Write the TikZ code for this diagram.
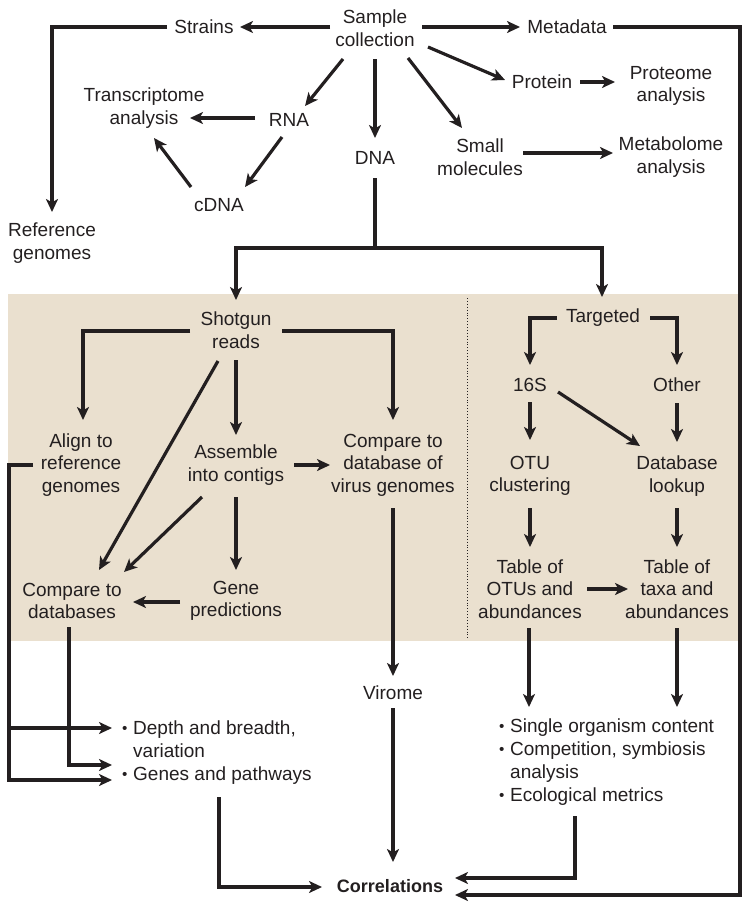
\documentclass[tikz,border=0pt]{standalone}
\usepackage{fontspec}
\setmainfont{Liberation Sans}
\usetikzlibrary{arrows.meta,calc}
\definecolor{txt}{HTML}{231F20}
\definecolor{beige}{HTML}{EAE0CF}
\newcommand\fs{\fontsize{19}{22.5}\selectfont}
\newcommand\bul{\makebox[11pt][l]{\raisebox{1pt}{\scalebox{0.8}{•}}}}
\begin{document}
\begin{tikzpicture}[x=1pt,y=-1pt,
  lbl/.style={align=center,inner sep=0pt,text=txt,font=\fs},
  arr/.style={line width=3.2pt,draw=txt,-{Stealth[length=13pt,width=12pt,inset=3.5pt]}},
  ln/.style={line width=3.2pt,draw=txt}]
\useasboundingbox (0,0) rectangle (751,910);
\fill[beige] (8,294) rectangle (740,641);
\draw[txt,line width=0.9pt,dotted] (467,298) -- (467,638);

% nodes
\node[lbl] (sample) at (375,28) {Sample\\collection};
\node[lbl] (strains) at (204,27) {Strains};
\node[lbl] (metadata) at (567,27) {Metadata};
\node[lbl] (refgen) at (52,243) {Reference\\genomes};
\node[lbl] (trans) at (144,108) {Transcriptome\\analysis};
\node[lbl] (rna) at (289,120) {RNA};
\node[lbl] (cdna) at (219,205) {cDNA};
\node[lbl] (dna) at (375,158) {DNA};
\node[lbl] (protein) at (542,82) {Protein};
\node[lbl] (proteome) at (671,86) {Proteome\\analysis};
\node[lbl] (small) at (480,157) {Small\\molecules};
\node[lbl] (metab) at (671,157) {Metabolome\\analysis};

\node[lbl] (shotgun) at (236,330) {Shotgun\\reads};
\node[lbl] (align) at (81,465) {Align to\\reference\\genomes};
\node[lbl] (assemble) at (236,465) {Assemble\\into contigs};
\node[lbl] (virus) at (393,465) {Compare to\\database of\\virus genomes};
\node[lbl] (compdb) at (72,601) {Compare to\\databases};
\node[lbl] (gene) at (236,601) {Gene\\predictions};
\node[lbl] (virome) at (393,693) {Virome};

\node[lbl] (targeted) at (603,318) {Targeted};
\node[lbl] (s16) at (530,385) {16S};
\node[lbl] (other) at (677,385) {Other};
\node[lbl] (otu) at (530,476) {OTU\\clustering};
\node[lbl] (dblookup) at (677,476) {Database\\lookup};
\node[lbl] (totu) at (530,589) {Table of\\OTUs and\\abundances};
\node[lbl] (ttaxa) at (677,589) {Table of\\taxa and\\abundances};

\node[lbl,align=left,anchor=west,font=\fontsize{19}{23}\selectfont] (leftres) at (122,753)
  {\bul Depth and breadth,\\\hspace*{11pt}variation\\\bul Genes and pathways};
\node[lbl,align=left,anchor=west,font=\fontsize{19}{23}\selectfont] (rightres) at (499,762)
  {\bul Single organism content\\\bul Competition, symbiosis\\\hspace*{11pt}analysis\\\bul Ecological metrics};
\node[lbl,font=\fontsize{18}{22}\selectfont\bfseries] (corr) at (390,886) {Correlations};

% top connectors
\draw[arr] ($(sample)+(-45,-1)$) -- ($(strains)+(36,0)$);
\draw[arr] ($(strains)+(-37,0)$) -| ($(refgen)+(0,-31)$);
\draw[arr] ($(sample)+(47,-1)$) -- ($(metadata)+(-47,0)$);
\draw[arr] ($(metadata)+(46,0)$) -| ($(corr)+(350,9)$) -- ($(corr)+(65,9)$);
\draw[arr] ($(sample)+(-32,31)$) -- ($(rna)+(16,-14)$);
\draw[arr] ($(rna)+(-34,-2)$) -- ($(trans)+(46,10)$);
\draw[arr] ($(rna)+(-7,17)$) -- ($(cdna)+(26,-18)$);
\draw[arr] ($(cdna)+(-28,-18)$) -- ($(trans)+(10,30)$);
\draw[arr] ($(sample)+(0,31)$) -- ($(dna)+(0,-20)$);
\coordinate (split) at ($(dna)+(0,90)$);
\draw[ln] ($(dna)+(0,20)$) -- (split);
\draw[arr] (split) -| ($(shotgun)+(0,-30)$);
\draw[arr] (split) -| ($(targeted)+(-1,-21)$);
\draw[arr] ($(sample)+(53,19)$) -- ($(protein)+(-37,-2)$);
\draw[arr] ($(protein)+(38,0)$) -- ($(proteome)+(-56,-4)$);
\draw[arr] ($(sample)+(33,30)$) -- ($(small)+(-18,-29)$);
\draw[arr] ($(small)+(43,-4)$) -- ($(metab)+(-58,-4)$);

% shotgun panel
\draw[arr] ($(shotgun)+(-46,1)$) -| ($(align)+(2,-45)$);
\draw[arr] ($(shotgun)+(46,1)$) -| ($(virus)+(0,-45)$);
\draw[arr] ($(shotgun)+(0,30)$) -- ($(assemble)+(0,-30)$);
\draw[arr] ($(shotgun)+(-18,31)$) -- ($(compdb)+(27,-31)$);
\draw[arr] ($(assemble)+(-34,32)$) -- ($(compdb)+(52,-29)$);
\draw[arr] ($(assemble)+(0,32)$) -- ($(gene)+(0,-31)$);
\draw[arr] ($(gene)+(-56,1)$) -- ($(compdb)+(61,1)$);
\draw[arr] ($(assemble)+(58,0)$) -- ($(virus)+(-63,0)$);
\draw[arr] ($(virus)+(0,43)$) -- ($(virome)+(0,-17)$);
\draw[arr] ($(virome)+(0,15)$) -- ($(corr)+(3,-24)$);
\draw[arr] ($(align)+(-48,0)$) -| ($(leftres.west)+(-113,27)$) -- ($(leftres.west)+(-10,27)$);
\draw[arr] ($(leftres.west)+(-113,-25)$) -- ($(leftres.west)+(-10,-25)$);
\draw[arr] ($(compdb)+(-3,26)$) |- ($(leftres.west)+(-10,12)$);
\draw[arr] ($(leftres.west)+(97,44)$) |- ($(corr)+(-68,1)$);

% targeted panel
\draw[arr] ($(targeted)+(-46,0)$) -| ($(s16)+(0,-20)$);
\draw[arr] ($(targeted)+(47,0)$) -| ($(other)+(0,-20)$);
\draw[arr] ($(s16)+(0,17)$) -- ($(otu)+(0,-36)$);
\draw[arr] ($(s16)+(28,7)$) -- ($(dblookup)+(-37,-30)$);
\draw[arr] ($(other)+(0,18)$) -- ($(dblookup)+(0,-34)$);
\draw[arr] ($(otu)+(0,32)$) -- ($(totu)+(0,-42)$);
\draw[arr] ($(dblookup)+(0,32)$) -- ($(ttaxa)+(0,-42)$);
\draw[arr] ($(totu)+(57,0)$) -- ($(ttaxa)+(-49,0)$);
\draw[arr] ($(totu)+(-1,39)$) -- ($(rightres.west)+(30,-55)$);
\draw[arr] ($(ttaxa)+(0,39)$) -- ($(rightres.west)+(178,-55)$);
\draw[arr] ($(rightres.west)+(76,54)$) |- ($(corr)+(65,-8)$);
\end{tikzpicture}
\end{document}
